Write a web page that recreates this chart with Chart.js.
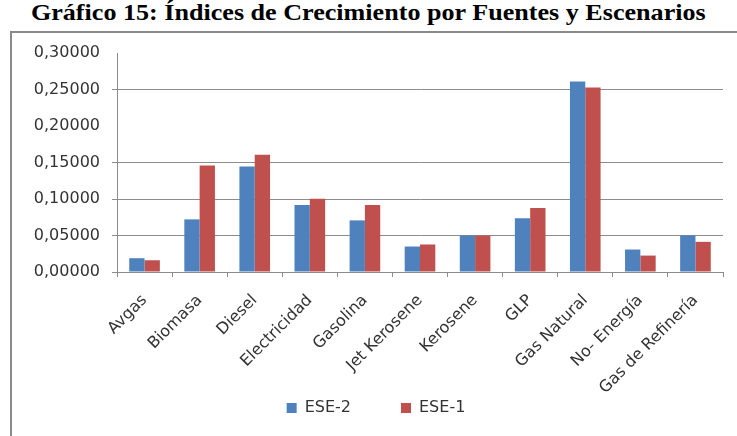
<!DOCTYPE html>
<html>
<head>
<meta charset="utf-8">
<script src="https://cdn.jsdelivr.net/npm/chart.js@4"></script>
<style>
  html, body { margin: 0; padding: 0; background: #fff; }
  body { width: 737px; height: 436px; position: relative; overflow: hidden; }
  .title {
    position: absolute; left: 0; top: 0px; width: 737px; text-align: center;
    font: bold 23px "Liberation Serif", "Times New Roman", serif; color: #000;
    transform: scaleX(1.135); transform-origin: 370px 0;
  }
  .frame {
    position: absolute; left: 10px; top: 31px; width: 800px; height: 500px;
    border: 2px solid #8a8a8a;
  }
  #chart { position: absolute; left: 0; top: 0; }
</style>
</head>
<body>
<div class="title">Gráfico 15: Índices de Crecimiento por Fuentes y Escenarios</div>
<div class="frame"></div>
<canvas id="chart" width="737" height="436"></canvas>
<script>
// Fuentes de energía (categorías)
const fuentes = ["Avgas", "Biomasa", "Diesel", "Electricidad", "Gasolina", "Jet Kerosene",
  "Kerosene", "GLP", "Gas Natural", "No- Energía", "Gas de Refinería"];

// Índices de crecimiento por escenario
const ese2 = [0.0189, 0.0721, 0.1445, 0.0918, 0.0707, 0.0349, 0.0500, 0.0735, 0.2610, 0.0308, 0.0500];
const ese1 = [0.0161, 0.1459, 0.1606, 0.1005, 0.0918, 0.0377, 0.0500, 0.0877, 0.2528, 0.0225, 0.0413];

const gridColor = "#8c8c8c";
const textColor = "#333333";

// gridlines that are not drawn in the original (0,20000 and 0,30000)
function hiddenGrid(v) {
  return Math.abs(v - 0.2) < 1e-9 || Math.abs(v - 0.3) < 1e-9;
}

// rotated x labels hang lower than the axis box, so don't let them get clipped
const unclipLabels = {
  id: "unclipLabels",
  afterLayout(chart) {
    chart.scales.x.bottom = chart.height;
  },
};

const ctx = document.getElementById("chart").getContext("2d");

new Chart(ctx, {
  type: "bar",
  data: {
    labels: fuentes,
    datasets: [
      {
        label: "ESE-2",
        data: ese2,
        backgroundColor: "#4F81BD",
        barPercentage: 1,
        categoryPercentage: 0.556,
      },
      {
        label: "ESE-1",
        data: ese1,
        backgroundColor: "#C0504D",
        barPercentage: 1,
        categoryPercentage: 0.556,
      },
    ],
  },
  plugins: [unclipLabels],
  options: {
    responsive: false,
    animation: false,
    layout: { padding: { top: 53, right: 14, left: 29, bottom: 10 } },
    scales: {
      x: {
        afterFit: (scale) => { scale.height = 78; },
        grid: {
          offset: true,
          drawOnChartArea: false,
          drawTicks: true,
          tickLength: 5,
          color: gridColor,
        },
        border: { color: gridColor },
        ticks: {
          color: textColor,
          font: { family: "DejaVu Sans", size: 16 },
          minRotation: 45,
          maxRotation: 45,
          autoSkip: false,
          padding: 14,
        },
      },
      y: {
        min: 0,
        max: 0.3,
        afterFit: (scale) => { scale.width = 88; },
        grid: {
          color: (c) => (c.tick && hiddenGrid(c.tick.value) ? "rgba(0,0,0,0)" : gridColor),
          tickLength: 5,
        },
        border: { color: gridColor },
        ticks: {
          stepSize: 0.05,
          color: textColor,
          font: { family: "DejaVu Sans", size: 16 },
          padding: 12,
          callback: (v) => v.toFixed(5).replace(".", ","),
        },
      },
    },
    plugins: {
      legend: {
        position: "bottom",
        labels: {
          boxWidth: 10,
          boxHeight: 10,
          padding: 50,
          color: textColor,
          font: { family: "DejaVu Sans", size: 16 },
        },
      },
      tooltip: { enabled: false },
    },
  },
});
</script>
</body>
</html>
